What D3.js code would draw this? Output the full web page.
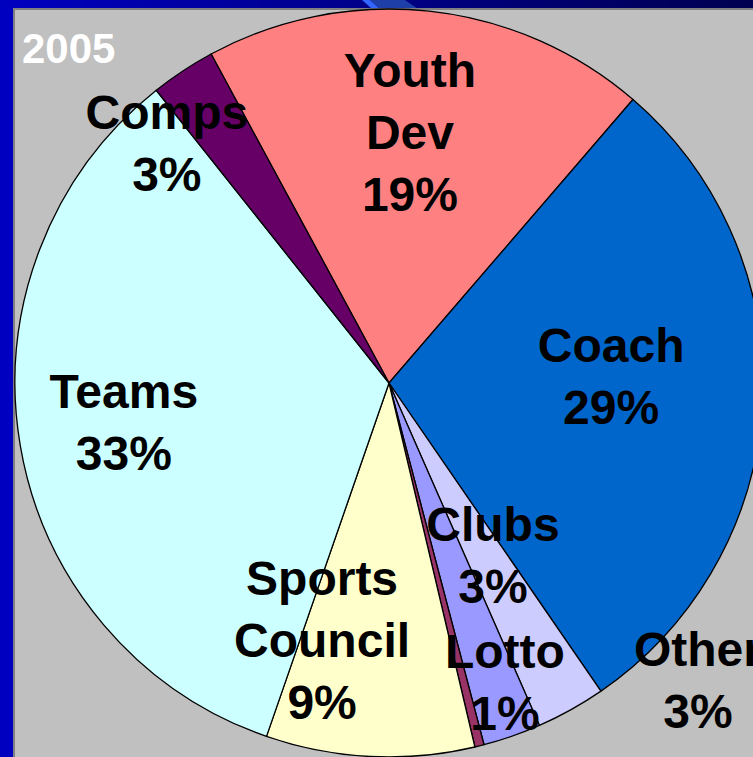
<!DOCTYPE html>
<html>
<head>
<meta charset="utf-8">
<script src="https://cdn.jsdelivr.net/npm/d3@7"></script>
<style>
  html, body { margin: 0; padding: 0; background: #0000c0; }
  svg { display: block; }
</style>
</head>
<body>
<script>
// slices, clockwise from the Youth Dev slice
const categories = ["Youth Dev", "Coach", "Other", "Clubs", "Lotto", "Sports Council", "Teams", "Comps"];
const shares = [19.2, 29.1, 3.0, 2.5, 0.4, 9.0, 34.0, 2.8];
const pctLabels = ["19%", "29%", "3%", "3%", "1%", "9%", "33%", "3%"];
const labelLines = [["Youth", "Dev"], ["Coach"], ["Other"], ["Clubs"], ["Lotto"], ["Sports", "Council"], ["Teams"], ["Comps"]];
const colors = ["#ff8080", "#0066cc", "#ccccff", "#9999ff", "#993366", "#ffffcc", "#ccffff", "#660066"];
const yearLabel = "2005";

const width = 753, height = 757;
const cx = 389, cy = 383, radius = 374;

// hand placed label centres, as fractions of the radius from the pie centre
const labelOffsets = [
    [0.056, -0.671], [0.594, -0.019], [0.826, 0.794], [0.278, 0.460],
    [0.310, 0.799], [-0.179, 0.687], [-0.709, 0.104], [-0.594, -0.642]
];

const svg = d3.select("body")
    .append("svg")
    .attr("width", width)
    .attr("height", height);

// slide frame
const defs = svg.append("defs");
const grad = defs.append("linearGradient").attr("id", "topband");
grad.append("stop").attr("offset", "0%").attr("stop-color", "#0000c0");
grad.append("stop").attr("offset", "100%").attr("stop-color", "#000050");

svg.append("rect").attr("width", width).attr("height", height).attr("fill", "#0000c0");
svg.append("rect").attr("width", width).attr("height", 9).attr("fill", "url(#topband)");
svg.append("path")
    .attr("d", "M362,0 L370,0 L380,9 L372,9 Z")
    .attr("fill", "#3366ff");
svg.append("path")
    .attr("d", "M370,0 L405,0 L418,9 L380,9 Z")
    .attr("fill", "#1f3fa8");

svg.append("rect")
    .attr("x", 13).attr("y", 8)
    .attr("width", width - 13).attr("height", height - 8)
    .attr("fill", "#c0c0c0");
svg.append("path")
    .attr("d", `M14,${height} L14,9 L${width},9`)
    .attr("fill", "none")
    .attr("stroke", "#808080")
    .attr("stroke-width", 2);

svg.append("text")
    .attr("x", 22).attr("y", 63)
    .attr("font-family", "Liberation Sans, Arial, sans-serif")
    .attr("font-weight", "bold")
    .attr("font-size", 42)
    .attr("fill", "#ffffff")
    .text(yearLabel);

const start = -28.4 * Math.PI / 180;
const pie = d3.pie()
    .value(d => d)
    .sort(null)
    .startAngle(start)
    .endAngle(start + 2 * Math.PI);

const arc = d3.arc()
    .innerRadius(0)
    .outerRadius(radius);

const g = svg.append("g")
    .attr("transform", `translate(${cx},${cy})`);

g.selectAll("path.slice")
    .data(pie(shares))
    .enter().append("path")
    .attr("class", "slice")
    .attr("d", arc)
    .attr("fill", (d, i) => colors[i])
    .attr("stroke", "#000")
    .attr("stroke-width", 1.3)
    .attr("stroke-linejoin", "round");

const lineH = 62;
const labels = g.selectAll("text.lab")
    .data(categories)
    .enter().append("text")
    .attr("class", "lab")
    .attr("text-anchor", "middle")
    .attr("font-family", "Liberation Sans, Arial, sans-serif")
    .attr("font-weight", "bold")
    .attr("font-size", 48)
    .attr("fill", "#000");

labels.each(function(d, i) {
    const lines = labelLines[i].concat([pctLabels[i]]);
    const x = labelOffsets[i][0] * radius;
    const y = labelOffsets[i][1] * radius;
    const n = lines.length;
    d3.select(this).selectAll("tspan")
        .data(lines)
        .enter().append("tspan")
        .attr("x", x)
        .attr("y", (t, k) => y + (k - (n - 1) / 2) * lineH + 17)
        .text(t => t);
});
</script>
</body>
</html>
